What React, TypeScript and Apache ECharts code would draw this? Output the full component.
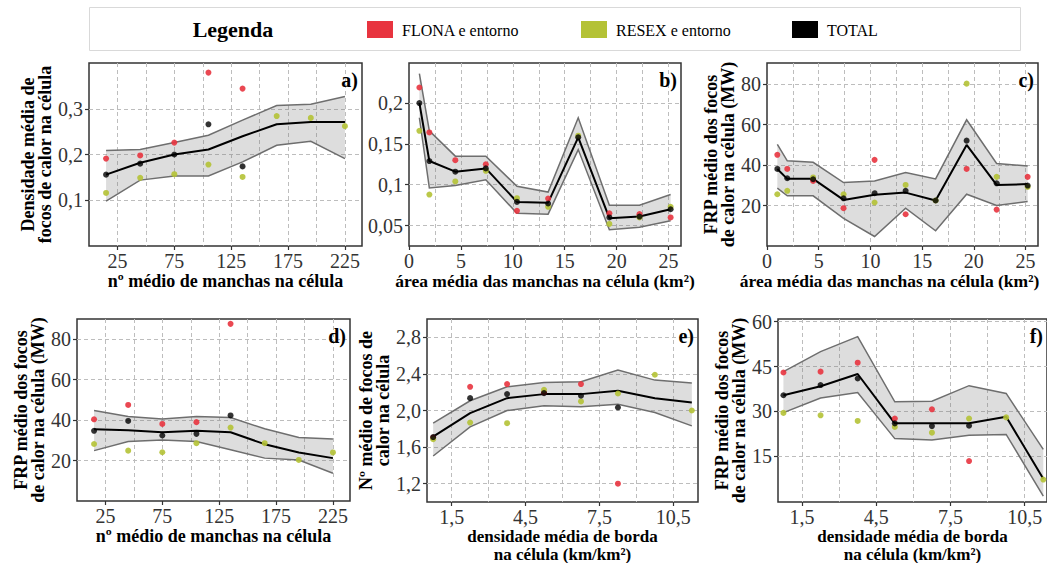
import React, { useEffect, useRef } from 'react';
import * as echarts from 'echarts';

const RED = '#e8343f';
const GREEN = '#b4c235';
const BLACK = '#000000';
const FONT = 'Liberation Serif, serif';

// ---------- legend ----------
const LEGEND_TITLE = 'Legenda';
const LEGEND_NAMES = ['FLONA e entorno', 'RESEX e entorno', 'TOTAL'];

// ---------- panel a ----------
const A_X = [15, 45, 75, 105, 135, 165, 195, 225];
const A_RED = [0.191, 0.198, 0.226, 0.379, 0.344, null, null, null];
const A_GREEN = [0.116, 0.149, 0.157, 0.178, 0.151, 0.284, 0.28, 0.262];
const A_TOTAL = [0.156, 0.18, 0.2, 0.266, 0.174, null, null, null];
const A_LINE = [0.156, 0.182, 0.2, 0.211, 0.24, 0.266, 0.271, 0.271];
const A_UPPER = [0.209, 0.211, 0.226, 0.242, 0.275, 0.307, 0.31, 0.327];
const A_LOWER = [0.098, 0.144, 0.153, 0.153, 0.184, 0.22, 0.229, 0.191];
const A_XLABELS = [25, 75, 125, 175, 225];
const A_XGRID = [25, 50, 75, 100, 125, 150, 175, 200, 225];
const A_YLABELS = [0.1, 0.2, 0.3];

// ---------- panel b ----------
const B_X = [1.0, 1.96, 4.46, 7.4, 10.4, 13.4, 16.3, 19.3, 22.2, 25.2];
const B_RED = [0.219, 0.164, 0.13, 0.125, 0.068, 0.083, null, 0.065, 0.064, 0.06];
const B_GREEN = [0.166, 0.088, 0.104, 0.117, 0.0835, 0.073, 0.16, 0.052, 0.06, 0.073];
const B_TOTAL = [0.2, 0.129, 0.116, 0.12, 0.079, 0.077, 0.158, 0.06, 0.061, 0.07];
const B_LINE = [0.2, 0.129, 0.116, 0.12, 0.079, 0.078, 0.158, 0.059, 0.061, 0.07];
const B_UPPER = [0.236, 0.166, 0.135, 0.135, 0.098, 0.091, 0.182, 0.075, 0.075, 0.088];
const B_LOWER = [0.182, 0.096, 0.099, 0.106, 0.065, 0.064, 0.143, 0.045, 0.048, 0.056];
const B_XLABELS = [0, 5, 10, 15, 20, 25];
const B_XGRID = [2.5, 5, 7.5, 10, 12.5, 15, 17.5, 20, 22.5, 25];
const B_YLABELS = [0.05, 0.1, 0.15, 0.2];

// ---------- panel c ----------
const C_X = B_X;
const C_RED = [45.1, 38.1, 32.2, 18.7, 42.6, 15.7, null, 38.1, 18.0, 34.2];
const C_GREEN = [25.6, 27.3, 33.9, 25.6, 21.5, 30.2, 22.5, 80.3, 34.2, 29.2];
const C_TOTAL = [38.1, 33.5, 33.0, 23.6, 26.1, 27.3, 22.5, 52.1, 31.0, 29.9];
const C_LINE = [38.1, 33.2, 33.2, 22.8, 25.3, 26.4, 22.5, 50.0, 30.2, 30.6];
const C_UPPER = [50.3, 42.1, 41.4, 31.4, 32.2, 36.3, 33.2, 62.4, 40.8, 39.6];
const C_LOWER = [28.6, 24.8, 24.8, 13.7, 4.7, 18.7, 7.5, 25.6, 20.0, 22.0];
const C_XLABELS = B_XLABELS;
const C_XGRID = B_XGRID;
const C_YLABELS = [20, 40, 60, 80];

// ---------- panel d ----------
const D_X = A_X;
const D_RED = [40.4, 47.5, 38.1, 39.0, 87.6, null, null, null];
const D_GREEN = [28.2, 24.9, 24.1, 28.6, 36.3, 28.6, 20.3, 24.0];
const D_TOTAL = [34.7, 39.6, 32.4, 33.2, 42.3, null, null, null];
const D_LINE = [35.5, 35.0, 34.0, 34.7, 34.0, 28.1, 24.0, 21.2];
const D_UPPER = [44.7, 41.8, 40.6, 41.8, 41.3, 35.7, 31.4, 30.7];
const D_LOWER = [24.9, 29.4, 30.2, 29.4, 25.3, 21.2, 20.3, 13.7];
const D_XLABELS = A_XLABELS;
const D_XGRID = A_XGRID;
const D_YLABELS = [20, 40, 60, 80];

// ---------- panel e ----------
const E_X = [0.75, 2.25, 3.75, 5.25, 6.75, 8.25, 9.75, 11.25];
const E_RED = [1.704, 2.259, 2.289, 2.197, 2.289, 1.2, null, null];
const E_GREEN = [1.686, 1.868, 1.861, 2.226, 2.099, 2.186, 2.391, 2.0];
const E_TOTAL = [1.71, 2.135, 2.179, 2.19, 2.161, 2.033, null, null];
const E_LINE = [1.715, 1.971, 2.135, 2.179, 2.179, 2.216, 2.135, 2.088];
const E_UPPER = [1.861, 2.106, 2.259, 2.307, 2.314, 2.442, 2.332, 2.3];
const E_LOWER = [1.503, 1.821, 2.0, 2.051, 2.04, 2.069, 1.978, 1.832];
const E_XLABELS = [1.5, 4.5, 7.5, 10.5];
const E_XGRID = [1.5, 3, 4.5, 6, 7.5, 9, 10.5];
const E_YLABELS = [1.2, 1.6, 2.0, 2.4, 2.8];

// ---------- panel f ----------
const F_X = E_X;
const F_RED = [43.0, 43.3, 46.3, 27.6, 30.7, 13.4, null, null];
const F_GREEN = [29.5, 28.7, 26.8, 24.8, 22.9, 27.6, 28.0, 7.2];
const F_TOTAL = [35.4, 38.8, 41.0, 26.0, 25.1, 25.2, null, null];
const F_LINE = [35.4, 38.4, 42.5, 26.0, 26.0, 26.0, 28.2, 7.5];
const F_UPPER = [43.3, 50.0, 55.0, 33.2, 33.4, 38.6, 36.0, 17.3];
const F_LOWER = [29.6, 34.5, 36.3, 20.9, 20.4, 22.0, 22.3, 1.7];
const F_XLABELS = E_XLABELS;
const F_XGRID = E_XGRID;
const F_YLABELS = [15, 30, 45, 60];

const TITLE_PATCHES = 'nº médio de manchas na célula';
const TITLE_AREA = 'área média das manchas na célula (km²)';
const TITLE_EDGE = 'densidade média de borda\nna célula (km/km²)';

type Panel = {
  tag: string;
  x: number[];
  red: (number | null)[];
  green: (number | null)[];
  total: (number | null)[];
  line: number[];
  upper: number[];
  lower: number[];
  xLabels: number[];
  xGrid: number[];
  yLabels: number[];
  yDec: number | null;
  xDec: number | null;
  xName: string;
  yName: string;
  xMin: number; xMax: number; yMin: number; yMax: number;
  box: { left: number; top: number; width: number; height: number };
  yGap: number;
  xGap: number;
  xNameSize: number;
  xNameLine: number;
  xNameShift: number;
  xNameFixed: boolean;
};

const PANELS: Panel[] = [
  { tag: 'a)', x: A_X, red: A_RED, green: A_GREEN, total: A_TOTAL, line: A_LINE, upper: A_UPPER, lower: A_LOWER,
    xLabels: A_XLABELS, xGrid: A_XGRID, yLabels: A_YLABELS, yDec: null, xDec: null,
    xName: TITLE_PATCHES, yName: 'Densidade média de\nfocos de calor na célula',
    xMin: 0, xMax: 240, yMin: 0, yMax: 0.4, box: { left: 89, top: 63, width: 273, height: 183 },
    yGap: 27, xGap: 25, xNameSize: 18, xNameLine: 17, xNameShift: 0, xNameFixed: false },
  { tag: 'b)', x: B_X, red: B_RED, green: B_GREEN, total: B_TOTAL, line: B_LINE, upper: B_UPPER, lower: B_LOWER,
    xLabels: B_XLABELS, xGrid: B_XGRID, yLabels: B_YLABELS, yDec: null, xDec: null,
    xName: TITLE_AREA, yName: '',
    xMin: 0, xMax: 26.2, yMin: 0.025, yMax: 0.249, box: { left: 409, top: 63, width: 272, height: 183 },
    yGap: 30, xGap: 25, xNameSize: 17.5, xNameLine: 17, xNameShift: 0, xNameFixed: false },
  { tag: 'c)', x: C_X, red: C_RED, green: C_GREEN, total: C_TOTAL, line: C_LINE, upper: C_UPPER, lower: C_LOWER,
    xLabels: C_XLABELS, xGrid: C_XGRID, yLabels: C_YLABELS, yDec: null, xDec: null,
    xName: TITLE_AREA, yName: 'FRP médio dos focos\nde calor na célula (MW)',
    xMin: 0, xMax: 26.2, yMin: 0, yMax: 90.5, box: { left: 767, top: 63, width: 271, height: 183 },
    yGap: 28, xGap: 25, xNameSize: 17.5, xNameLine: 17, xNameShift: 26, xNameFixed: false },
  { tag: 'd)', x: D_X, red: D_RED, green: D_GREEN, total: D_TOTAL, line: D_LINE, upper: D_UPPER, lower: D_LOWER,
    xLabels: D_XLABELS, xGrid: D_XGRID, yLabels: D_YLABELS, yDec: null, xDec: null,
    xName: TITLE_PATCHES, yName: 'FRP médio dos focos\nde calor na célula (MW)',
    xMin: 0, xMax: 240, yMin: 0, yMax: 90, box: { left: 77, top: 319, width: 273, height: 182 },
    yGap: 28, xGap: 25, xNameSize: 18, xNameLine: 17, xNameShift: 0, xNameFixed: false },
  { tag: 'e)', x: E_X, red: E_RED, green: E_GREEN, total: E_TOTAL, line: E_LINE, upper: E_UPPER, lower: E_LOWER,
    xLabels: E_XLABELS, xGrid: E_XGRID, yLabels: E_YLABELS, yDec: 1, xDec: 1,
    xName: TITLE_EDGE, yName: 'Nº médio de focos de\ncalor na célula',
    xMin: 0.5, xMax: 11.5, yMin: 1.0, yMax: 3.0, box: { left: 427, top: 319, width: 271, height: 183 },
    yGap: 26, xGap: 25, xNameSize: 17, xNameLine: 18, xNameShift: 0, xNameFixed: true },
  { tag: 'f)', x: F_X, red: F_RED, green: F_GREEN, total: F_TOTAL, line: F_LINE, upper: F_UPPER, lower: F_LOWER,
    xLabels: F_XLABELS, xGrid: F_XGRID, yLabels: F_YLABELS, yDec: null, xDec: 1,
    xName: TITLE_EDGE, yName: 'FRP médio dos focos\nde calor na célula (MW)',
    xMin: 0.53, xMax: 11.4, yMin: -0.3, yMax: 60.9, box: { left: 778, top: 319, width: 269, height: 183 },
    yGap: 30, xGap: 25, xNameSize: 17, xNameLine: 18, xNameShift: 0, xNameFixed: true },
];

const fmt = (dec: number | null) => (v: number) =>
  (dec == null ? String(Math.round(v * 1000) / 1000) : v.toFixed(dec)).replace('.', ',');

const pairs = (xs: number[], ys: (number | null)[]) =>
  xs.map((x, k) => [x, ys[k]]).filter((p) => p[1] != null);

function buildOption() {
  const grid: any[] = [];
  const xAxis: any[] = [];
  const yAxis: any[] = [];
  const series: any[] = [];
  const graphic: any[] = [];

  const tickLabel = { fontFamily: FONT, fontSize: 20, color: '#333' };
  const nameStyle = { fontFamily: FONT, fontSize: 18, fontWeight: 'bold', color: '#000', lineHeight: 17 };
  const dashed = { show: true, lineStyle: { color: '#bdbdbd', type: [4, 3], width: 1 } };

  PANELS.forEach((p, i) => {
    grid.push({
      ...p.box, show: true, borderColor: '#333', borderWidth: 1.5, backgroundColor: 'transparent',
      containLabel: false, outerBoundsMode: 'none',
    });
    const xMain: any = {
      type: 'value', gridIndex: i, min: p.xMin, max: p.xMax, position: 'bottom',
      axisLine: { show: false },
      axisTick: { show: false, customValues: p.xGrid },
      axisLabel: { ...tickLabel, margin: 5, customValues: p.xLabels, formatter: fmt(p.xDec) },
      splitLine: dashed,
      name: p.xName, nameLocation: 'middle', nameGap: p.xGap,
      nameTextStyle: { ...nameStyle, fontSize: p.xNameSize, lineHeight: p.xNameLine,
        padding: [0, p.xNameShift, 0, 0] },
    };
    if (p.xNameFixed) xMain.nameMoveOverlap = false;
    xAxis.push(xMain);
    xAxis.push({
      type: 'value', gridIndex: i, min: p.xMin, max: p.xMax, position: 'bottom',
      axisLine: { show: false },
      axisTick: { show: true, length: 4, customValues: p.xLabels, lineStyle: { color: '#333', width: 1.2 } },
      axisLabel: { show: false },
      splitLine: { show: false },
    });
    yAxis.push({
      type: 'value', gridIndex: i, min: p.yMin, max: p.yMax,
      axisLine: { show: false },
      axisTick: { show: true, length: 4, customValues: p.yLabels, lineStyle: { color: '#333', width: 1.2 } },
      axisLabel: { ...tickLabel, margin: 6, customValues: p.yLabels, formatter: fmt(p.yDec) },
      splitLine: dashed,
      name: p.yName, nameLocation: 'middle', nameGap: p.yGap, nameRotate: 90,
      nameTextStyle: nameStyle,
    });
    const ax = { xAxisIndex: 2 * i, yAxisIndex: i, silent: true, animation: false };

    // confidence ribbon: polygon between lower and upper bounds, drawn with the axes' scales
    series.push({
      ...ax, type: 'custom', z: 2,
      data: p.x.map((x, k) => [x, p.lower[k], p.upper[k]]),
      encode: { x: 0, y: [1, 2] },
      renderItem: (params: any, api: any) => {
        if (params.dataIndex !== 0) return null;
        const up = p.x.map((x, k) => api.coord([x, p.upper[k]]));
        const lo = p.x.map((x, k) => api.coord([x, p.lower[k]]));
        const edge = { stroke: '#6e6e6e', lineWidth: 1.5, fill: null };
        return {
          type: 'group',
          children: [
            { type: 'polygon', shape: { points: up.concat(lo.slice().reverse()) },
              style: { fill: 'rgba(120,120,120,0.25)', stroke: null } },
            { type: 'polyline', shape: { points: up }, style: edge },
            { type: 'polyline', shape: { points: lo }, style: edge },
          ],
        };
      },
    });
    series.push({
      ...ax, type: 'line', symbol: 'none', z: 3,
      data: p.x.map((x, k) => [x, p.line[k]]), lineStyle: { color: '#000', width: 2 },
    });
    series.push({ ...ax, type: 'scatter', name: LEGEND_NAMES[0], symbolSize: 6, z: 4,
      data: pairs(p.x, p.red), itemStyle: { color: RED, opacity: 0.9 } });
    series.push({ ...ax, type: 'scatter', name: LEGEND_NAMES[1], symbolSize: 6, z: 4,
      data: pairs(p.x, p.green), itemStyle: { color: GREEN, opacity: 0.9 } });
    series.push({ ...ax, type: 'scatter', name: LEGEND_NAMES[2], symbolSize: 6, z: 5,
      data: pairs(p.x, p.total), itemStyle: { color: BLACK } });

    graphic.push({
      type: 'text', x: p.box.left + p.box.width - 4, y: p.box.top + 17, z: 10,
      style: { text: p.tag, fontFamily: FONT, fontSize: 20, fontWeight: 'bold', fill: '#000',
        align: 'right', textAlign: 'right', verticalAlign: 'middle', textVerticalAlign: 'middle' },
    });
  });

  // legend
  graphic.push({ type: 'rect', shape: { x: 89.5, y: 7.5, width: 931, height: 43 },
    style: { fill: '#fff', stroke: '#d9d9d9', lineWidth: 1 }, z: 1 });
  graphic.push({ type: 'text', x: 233, y: 29, z: 2,
    style: { text: LEGEND_TITLE, fontFamily: FONT, fontSize: 22, fontWeight: 'bold', fill: '#000',
      align: 'center', textAlign: 'center', verticalAlign: 'middle', textVerticalAlign: 'middle' } });
  const legendColors = [RED, GREEN, BLACK];
  const legendX = [367, 581, 792];
  LEGEND_NAMES.forEach((n, k) => {
    graphic.push({ type: 'rect', shape: { x: legendX[k], y: 21, width: 26, height: 17 },
      style: { fill: legendColors[k] }, z: 2 });
    graphic.push({ type: 'text', x: legendX[k] + 35, y: 30, z: 2,
      style: { text: n, fontFamily: FONT, fontSize: 16, fill: '#000', align: 'left', textAlign: 'left',
        verticalAlign: 'middle', textVerticalAlign: 'middle' } });
  });

  return { animation: false, backgroundColor: '#fff', grid, xAxis, yAxis, series, graphic };
}

export default function App() {
  const ref = useRef<HTMLDivElement>(null);
  useEffect(() => {
    if (!ref.current) return;
    const chart = echarts.init(ref.current, undefined, { renderer: 'svg' });
    chart.setOption(buildOption() as any);
    return () => chart.dispose();
  }, []);
  return (
    <div
      ref={ref}
      style={{ position: 'absolute', left: 0, top: 0, width: 1047, height: 563, background: '#fff' }}
    />
  );
}
